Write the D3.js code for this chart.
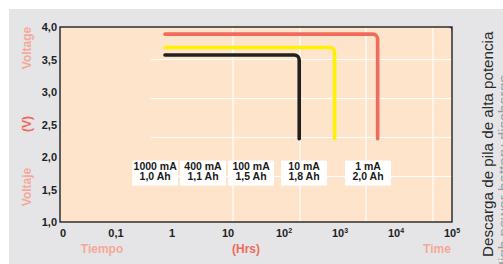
<!DOCTYPE html>
<html><head><meta charset="utf-8">
<script src="https://cdn.jsdelivr.net/npm/d3@7"></script>
<style>
html,body{margin:0;padding:0;background:#fff;}
svg{display:block;font-family:"Liberation Sans",Arial,Helvetica,sans-serif;}
</style></head>
<body>
<svg id="chart" width="503" height="264"></svg>
<script>
// ---- data ----
const yTicks = [1.0, 1.5, 2.0, 2.5, 3.0, 3.5, 4.0];
const yTickLabels = ["1,0","1,5","2,0","2,5","3,0","3,5","4,0"];
const xTicks = [0.01, 0.1, 1, 10, 100, 1000, 10000, 100000];
const xTickBase = ["0","0,1","1","10","10","10","10","10"];
const xTickExp  = ["","","","","2","3","4","5"];
const seriesColors = ["#f26a5c","#fff200","#231f20"];
const lineStartHours = [0.75, 0.75, 0.75];
const lineEndHours = [4700, 800, 187];
const plateauVolts = [3.89, 3.685, 3.57];
const cutoffVolts = [2.28, 2.28, 2.28];
const currents = ["1000 mA","400 mA","100 mA","10 mA","1 mA"];
const capacities = ["1,0 Ah","1,1 Ah","1,5 Ah","1,8 Ah","2,0 Ah"];
const labelHours = [0.5, 3.58, 25.8, 228, 3160];
const labelVolt = 1.76;
const gridXHours = [12.3, 193, 2910, 45800];
const gridYVolts = [3.5, 2.9, 2.3, 1.7];
const gridStartHours = 0.42;

// ---- layout ----
const svg = d3.select("#chart");
const L = 60, R = 452, T = 27, B = 222;
const x = d3.scaleLog().domain([0.01, 100000]).range([L, R]);
const y = d3.scaleLinear().domain([1, 4]).range([B, T]);

svg.append("rect").attr("x",9).attr("y",9).attr("width",494).attr("height",255).attr("fill","#e5e5e7");
svg.append("rect").attr("x",L).attr("y",T).attr("width",R-L).attr("height",B-T).attr("fill","#fee4ca");

// grid
svg.append("g").selectAll("line").data(gridXHours).join("line")
  .attr("x1",d=>x(d)).attr("x2",d=>x(d)).attr("y1",T).attr("y2",B)
  .attr("stroke","#fff").attr("stroke-width",1.2);
svg.append("g").selectAll("line").data(gridYVolts).join("line")
  .attr("x1",x(gridStartHours)).attr("x2",R).attr("y1",d=>y(d)).attr("y2",d=>y(d))
  .attr("stroke","#fff").attr("stroke-width",1.2);

// frame
svg.append("rect").attr("x",L).attr("y",T).attr("width",R-L).attr("height",B-T)
  .attr("fill","none").attr("stroke","#222").attr("stroke-width",1.4);
// small navy corner mark
svg.append("path").attr("d",`M${R-5},${T} Q${R},${T} ${R},${T+5} L${R},${T} Z`).attr("fill","#1b2e6e");

// discharge curves
const rad = 5;
lineEndHours.forEach((eh,i)=>{
  const p = d3.path();
  const x0 = x(lineStartHours[i]), x1 = x(eh), y0 = y(plateauVolts[i]), y1 = y(cutoffVolts[i]);
  p.moveTo(x0, y0);
  p.arcTo(x1, y0, x1, y1, rad);
  p.lineTo(x1, y1);
  svg.append("path").attr("d", p.toString()).attr("fill","none")
    .attr("stroke", seriesColors[i]).attr("stroke-width",3.6).attr("stroke-linecap","round");
});

// label boxes
const lg = svg.append("g").selectAll("g").data(currents).join("g")
  .attr("transform",(d,i)=>`translate(${x(labelHours[i])},${y(labelVolt)})`);
lg.append("rect").attr("x",-23).attr("y",-12).attr("width",46).attr("height",25).attr("fill","#fff");
lg.append("text").attr("text-anchor","middle").attr("y",-3).attr("font-size",10.5).attr("font-weight","bold").attr("fill","#1a1a1a").text(d=>d);
lg.append("text").attr("text-anchor","middle").attr("y",7).attr("font-size",10.5).attr("font-weight","bold").attr("fill","#1a1a1a").text((d,i)=>capacities[i]);

// y tick labels
svg.append("g").selectAll("text").data(yTicks).join("text")
  .attr("x",57).attr("y",d=>y(d)+4).attr("text-anchor","end")
  .attr("font-size",11).attr("font-weight","bold").attr("fill","#222")
  .text((d,i)=>yTickLabels[i]);

// x tick labels
const xt = svg.append("g").selectAll("text").data(xTicks).join("text")
  .attr("x",(d,i)=>x(d)+(i===0?3:0)).attr("y",237).attr("text-anchor","middle")
  .attr("font-size",11).attr("font-weight","bold").attr("fill","#222");
xt.append("tspan").text((d,i)=>xTickBase[i]);
xt.append("tspan").attr("dy",-4).attr("font-size",7).text((d,i)=>xTickExp[i]);

// axis titles
const light = "#f5a898", strong = "#ef6a5a";
function vtext(t, cx, cy, col){
  svg.append("text").attr("transform",`translate(${cx},${cy}) rotate(-90)`).attr("text-anchor","middle")
    .attr("font-size",12).attr("font-weight","bold").attr("fill",col).text(t);
}
vtext("Voltage", 31, 48, light);
vtext("(V)", 31, 124, strong);
vtext("Voltaje", 31, 187, light);
function htext(t, cx, col){
  svg.append("text").attr("x",cx).attr("y",253).attr("text-anchor","middle")
    .attr("font-size",12).attr("font-weight","bold").attr("fill",col).text(t);
}
htext("Tiempo", 102, light);
htext("(Hrs)", 246, strong);
htext("Time", 437, light);

// side title
svg.append("text").attr("transform","translate(493,257) rotate(-90)").attr("text-anchor","start")
  .attr("font-size",15.2).attr("fill","#2a2a2a").text("Descarga de pila de alta potencia");
svg.append("text").attr("transform","translate(509,272) rotate(-90)").attr("text-anchor","start")
  .attr("font-size",15.2).attr("fill","#9a9a9a").text("High power battery discharge");
</script>
</body></html>
